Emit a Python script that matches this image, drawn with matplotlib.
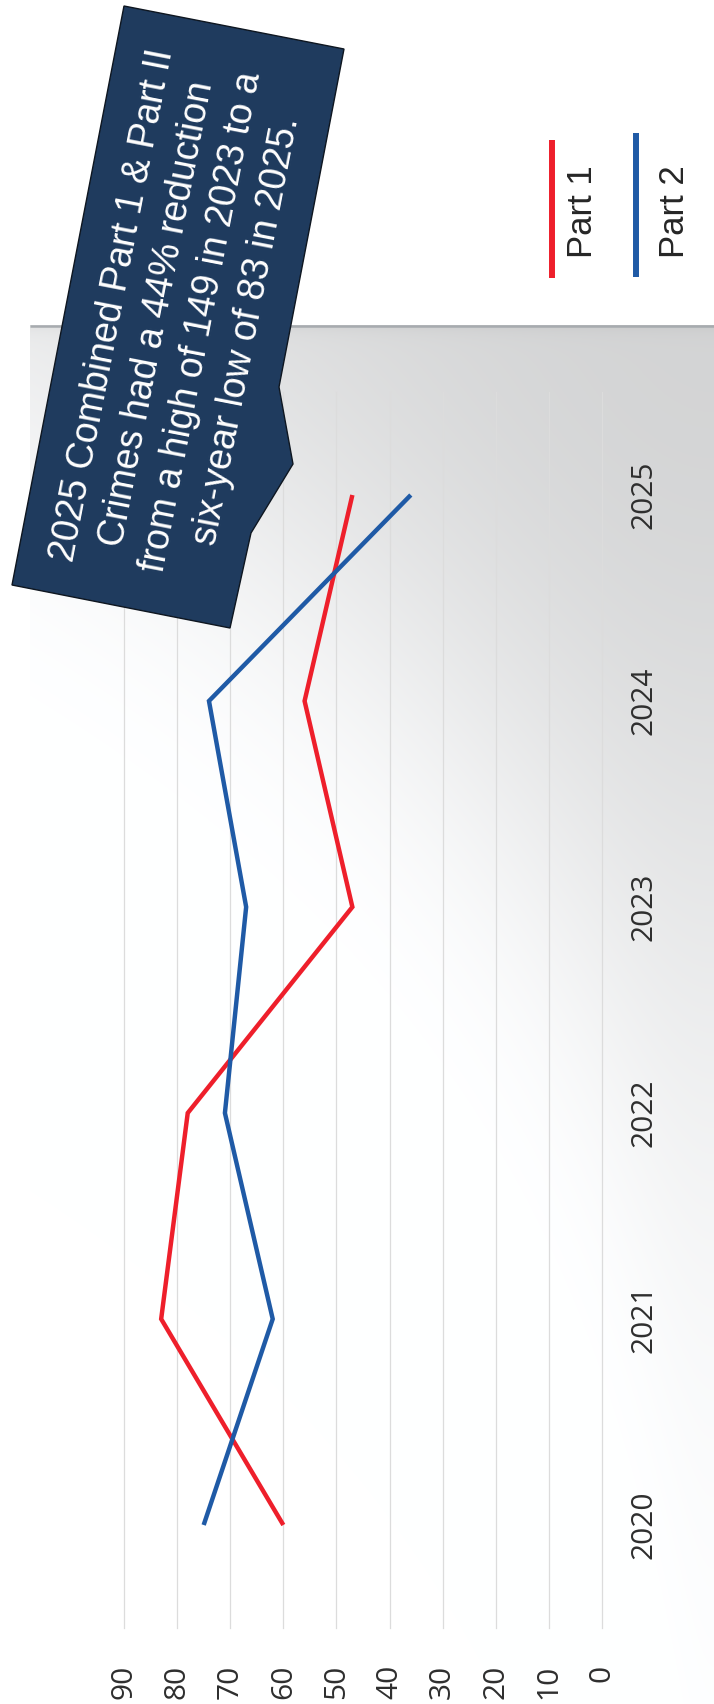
import numpy as np
import matplotlib
matplotlib.use("Agg")
import matplotlib.pyplot as plt
from matplotlib.patches import Polygon

# ---- data -------------------------------------------------------------
years = [2020, 2021, 2022, 2023, 2024, 2025]
part1 = [60, 83, 78, 47, 56, 47]
part2 = [75, 62, 71, 67, 74, 36]
series_names = ["Part 1", "Part 2"]
series_colors = ["#ee1f2b", "#1f5aa6"]
value_ticks = list(range(0, 100, 10))
note_lines = [
    "2025 Combined Part 1 & Part II",
    "Crimes had a 44% reduction",
    "from a high of 149 in 2023 to a",
    "six-year low of 83 in 2025.",
]

# ---- page geometry (pixels) --------------------------------------------
W, H = 714, 1704
TICK_FONT = ["Open Sans", "DejaVu Sans"]
TEXT_FONT = ["Liberation Sans", "DejaVu Sans"]

fig = plt.figure(figsize=(W / 100, H / 100), dpi=100)

# soft grey shading of the plot panel, darkest towards the upper right
bg = fig.add_axes([0, 0, 1, 1], zorder=0)
yy, xx = np.mgrid[0:H, 0:W] + 0.5
dx = W - xx
dy = np.clip(yy - 325, 0, None)
inside = (yy >= 325) & (xx >= 30)
Lx = 800 * np.exp(-dy / 450)
t = (dx / Lx) ** 2 + (dy / 750) ** 2
shade = 0.17 * np.exp(-t) + 0.045 * np.exp(-dy / 7)
shade = np.where(inside, shade, 0.0)
g = 1 - shade
rgb = np.dstack([g, g + 0.003, g + 0.006]).clip(0, 1)
bg.imshow(rgb, extent=(0, W, H, 0), interpolation="bilinear", aspect="auto")
bg.set_xlim(0, W)
bg.set_ylim(H, 0)
bg.axis("off")
bg.plot([30, W], [326, 326], color="#a7abaf", lw=1.8, solid_capstyle="butt")

# ---- main chart: years run upward, values run right-to-left ------------
left_px, right_px, top_px, bottom_px = 30, 602, 392, 1628
px_per_unit = 478 / 90
ax = fig.add_axes([left_px / W, 1 - bottom_px / H,
                   (right_px - left_px) / W, (bottom_px - top_px) / H], zorder=2)
ax.patch.set_alpha(0)
ax.set_xlim((right_px - left_px) / px_per_unit, 0)
ax.set_ylim(years[0] - 0.5, years[-1] + 0.5)

for vals, color in zip([part1, part2], series_colors):
    ax.plot(vals, years, color=color, lw=3.2, solid_joinstyle="miter",
            solid_capstyle="butt", zorder=3)

ax.set_xticks(value_ticks)
ax.set_xticklabels([str(v) for v in value_ticks], family=TICK_FONT)
ax.grid(axis="x", color="#dcdcdc", lw=0.9)
for gl in ax.get_xgridlines():
    gl.set_clip_on(False)
for s in ax.spines.values():
    s.set_visible(False)
ax.tick_params(axis="x", length=0, pad=26.6, labelrotation=90,
               labelsize=21.5, labelcolor="#2e2e2e")

ax.yaxis.tick_right()
ax.set_yticks(years)
ax.set_yticklabels([str(y) for y in years], family=TICK_FONT)
ax.tick_params(axis="y", length=0, pad=30.2, labelrotation=90,
               labelsize=21.5, labelcolor="#2e2e2e")
for lbl in ax.get_yticklabels():
    lbl.set_ha("center")
    lbl.set_va("center")

# ---- overlay: legend and call-out note ---------------------------------
ov = fig.add_axes([0, 0, 1, 1], zorder=3)
ov.set_xlim(0, W)
ov.set_ylim(H, 0)
ov.axis("off")

legend_slots = [(552, 140, 278, 583), (636, 133, 277, 675)]
for name, color, (lx, y0, y1, tx) in zip(series_names, series_colors, legend_slots):
    ov.plot([lx, lx], [y0, y1], color=color, lw=4.3, solid_capstyle="butt")
    ov.text(tx, 212, name, rotation=90, ha="center", va="center",
            fontsize=25, family=TEXT_FONT, color="#262626")

callout = Polygon([(124, 6), (344, 49), (279, 387), (293, 464), (251, 533),
                   (230, 628), (12, 585)], closed=True,
                  facecolor="#1f3b5e", edgecolor="#0e1620", lw=1.0)
ov.add_patch(callout)
ov.text(180, 318, "\n".join(note_lines), rotation=79, ha="center", va="center",
        multialignment="center", rotation_mode="anchor", linespacing=1.33,
        fontsize=27, family=TEXT_FONT, color="white")

fig.savefig("out.png", dpi=100)
